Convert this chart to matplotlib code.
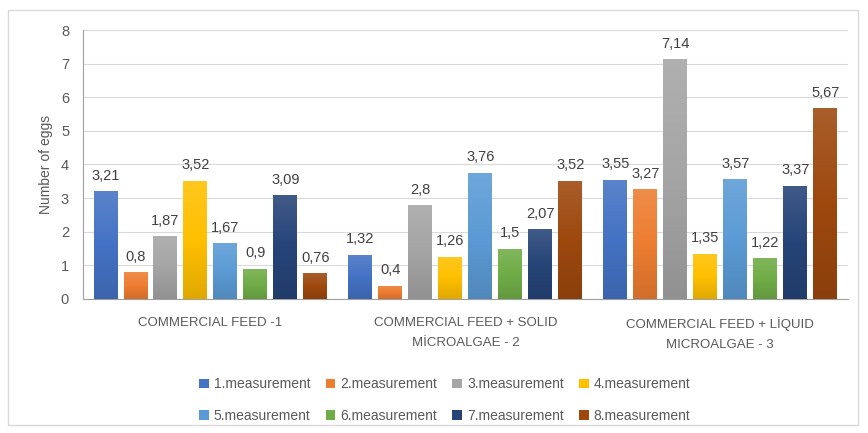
import numpy as np
import matplotlib
matplotlib.use("Agg")
import matplotlib.pyplot as plt
from matplotlib.patches import Rectangle
from matplotlib.colors import to_rgb, LinearSegmentedColormap

plt.rcParams["font.family"] = ["Liberation Sans Narrow", "Liberation Sans", "DejaVu Sans"]

groups = ["COMMERCIAL FEED -1",
          "COMMERCIAL FEED + SOLID\nMİCROALGAE - 2",
          "COMMERCIAL FEED + LİQUID\nMICROALGAE - 3"]
series = ["1.measurement", "2.measurement", "3.measurement", "4.measurement",
          "5.measurement", "6.measurement", "7.measurement", "8.measurement"]
values = [
    [3.21, 1.32, 3.55],
    [0.8, 0.4, 3.27],
    [1.87, 2.8, 7.14],
    [3.52, 1.26, 1.35],
    [1.67, 3.76, 3.57],
    [0.9, 1.5, 1.22],
    [3.09, 2.07, 3.37],
    [0.76, 3.52, 5.67],
]
colours = ["#4472C4", "#ED7D31", "#A5A5A5", "#FFC000",
           "#5B9BD5", "#70AD47", "#264478", "#9E480E"]

TEXT = "#595959"
fig = plt.figure(figsize=(8.68, 4.33), dpi=100)
ax = fig.add_axes([0.0956, 0.3095, 0.881, 0.6212])

def shade(col, f):
    c = np.array(to_rgb(col))
    if f > 0:
        return tuple(c + (1 - c) * f)
    return tuple(c * (1 + f))

grad = np.linspace(0, 1, 64).reshape(-1, 1)
x = np.arange(len(groups))
step = 0.1176
width = 0.094
handles = []
for i, (name, vals, col) in enumerate(zip(series, values, colours)):
    pos = x + (i - 3.5) * step
    bars = ax.bar(pos, vals, width, color=col, label=name, zorder=3)
    handles.append(bars)
    cmap = LinearSegmentedColormap.from_list(
        "g%d" % i, [shade(col, -0.12), col, shade(col, 0.12)])
    for b, v in zip(bars, vals):
        x0 = b.get_x()
        im = ax.imshow(grad, cmap=cmap, aspect="auto", origin="lower",
                       extent=[x0, x0 + b.get_width(), 0, v], zorder=3.1)
        im.set_clip_path(b)
        ax.annotate(f"{v:g}".replace(".", ","),
                    (x0 + b.get_width() / 2, v),
                    xytext=(0, 6), textcoords="offset points",
                    ha="center", va="bottom", fontsize=10.5, color="#404040")

ax.set_ylim(0, 8)
ax.set_xlim(-0.5, 2.5)
ax.set_yticks(range(0, 9))
ax.set_xticks(x)
ax.set_xticklabels(groups, fontsize=9.5, color=TEXT, linespacing=1.9)
ax.tick_params(axis="y", labelsize=10.5, colors=TEXT, length=0, pad=10)
ax.tick_params(axis="x", length=0, pad=13)
ax.grid(axis="y", color="#D9D9D9", linewidth=0.8, zorder=0)
for s in ["top", "right"]:
    ax.spines[s].set_visible(False)
ax.spines["left"].set_color("#A0A0A0")
ax.spines["bottom"].set_color("#A0A0A0")
ax.set_ylabel("Number of eggs", fontsize=10, color=TEXT, labelpad=6)

# legend filled row by row like the original
order = [0, 4, 1, 5, 2, 6, 3, 7]
ax.legend([handles[k] for k in order], [series[k] for k in order],
          loc="upper center", bbox_to_anchor=(0.473, -0.245), ncol=4,
          frameon=False, fontsize=10, handlelength=0.7, handleheight=0.7,
          handletextpad=0.35, columnspacing=1.1, labelspacing=1.25,
          labelcolor=TEXT)

fig.patches.append(Rectangle((0.009, 0.018), 0.98, 0.96, transform=fig.transFigure,
                             fill=False, edgecolor="#D9D9D9", linewidth=1))

fig.savefig("out.png", dpi=100)
